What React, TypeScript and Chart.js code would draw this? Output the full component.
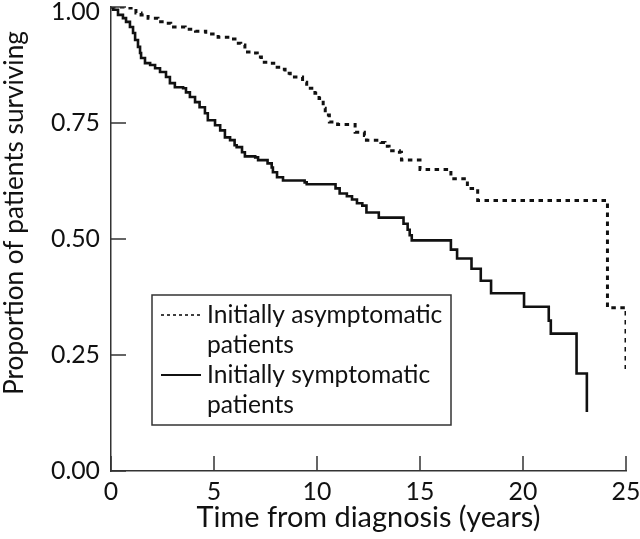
import React, { useEffect, useRef } from 'react';
import { Chart, registerables } from 'chart.js';

Chart.register(...registerables);

// Kaplan-Meier step data: time (years) at which survival drops, and survival after the drop
const asymTimes = [0, 0.92, 1.21, 1.46, 1.8, 2.28, 2.6, 2.9, 3.6, 4.1, 4.6, 5.2, 5.8, 6.1, 6.3, 6.5, 6.8, 7.1, 7.3, 7.6, 7.9, 8.3, 8.45, 8.7, 9.3, 9.5, 9.9, 10.1, 10.3, 10.4, 10.6, 11.0, 11.85, 12.3, 12.4, 13.1, 13.3, 13.5, 14.0, 14.1, 15.0, 16.5, 17.3, 17.8, 24.1, 25.0];
const asymSurv = [1.0, 0.998, 0.987, 0.983, 0.976, 0.968, 0.965, 0.957, 0.952, 0.948, 0.942, 0.935, 0.931, 0.922, 0.918, 0.903, 0.901, 0.892, 0.881, 0.879, 0.870, 0.866, 0.857, 0.849, 0.838, 0.825, 0.814, 0.803, 0.782, 0.767, 0.752, 0.747, 0.730, 0.723, 0.713, 0.708, 0.700, 0.690, 0.687, 0.670, 0.650, 0.630, 0.609, 0.583, 0.352, 0.220];

const symTimes = [0, 0.1, 0.34, 0.58, 0.73, 0.92, 1.07, 1.17, 1.31, 1.41, 1.46, 1.65, 1.9, 2.14, 2.38, 2.67, 2.86, 3.1, 3.5, 3.64, 3.83, 4.08, 4.3, 4.56, 4.7, 5.05, 5.3, 5.53, 5.78, 6.0, 6.1, 6.36, 6.5, 7.0, 7.14, 7.6, 7.8, 7.86, 8.06, 8.35, 9.4, 9.5, 10.9, 11.1, 11.45, 11.7, 11.94, 12.2, 12.4, 13.0, 14.2, 14.4, 14.5, 14.6, 16.5, 16.8, 17.5, 17.95, 18.45, 20.05, 21.25, 21.35, 22.6, 23.1];
const symSurv = [1.0, 0.994, 0.983, 0.976, 0.968, 0.957, 0.944, 0.929, 0.914, 0.901, 0.890, 0.879, 0.875, 0.868, 0.860, 0.849, 0.836, 0.827, 0.825, 0.816, 0.806, 0.795, 0.784, 0.771, 0.756, 0.745, 0.734, 0.719, 0.713, 0.702, 0.698, 0.687, 0.678, 0.676, 0.670, 0.663, 0.654, 0.644, 0.633, 0.626, 0.622, 0.618, 0.609, 0.598, 0.592, 0.585, 0.577, 0.572, 0.557, 0.546, 0.533, 0.520, 0.508, 0.497, 0.477, 0.458, 0.436, 0.410, 0.383, 0.354, 0.324, 0.296, 0.210, 0.127];

const xTicks = [0, 5, 10, 15, 20, 25];
const yTicks = [0, 0.25, 0.5, 0.75, 1];
const legendLines = [
  ['Initially asymptomatic', 'patients'],
  ['Initially symptomatic', 'patients'],
];
const xTitle = 'Time from diagnosis (years)';
const yTitle = 'Proportion of patients surviving';

const FONT = 'Lato, "Noto Sans", sans-serif';
const INK = '#111';

function fitSize(text: string, target: number): number {
  const c = document.createElement('canvas').getContext('2d')!;
  c.font = `100px ${FONT}`;
  return Math.round((100 * target) / c.measureText(text).width * 10) / 10;
}

export default function App() {
  const ref = useRef<HTMLCanvasElement>(null);

  useEffect(() => {
    document.body.style.margin = '0';
    const canvas = ref.current!;
    const tickSize = fitSize('0.75', 49);
    const xTitleSize = fitSize(xTitle, 344);
    const yTitleSize = fitSize(yTitle, 364);
    const legSize = fitSize(legendLines[0][0], 235);

    const decor = {
      id: 'decor',
      afterDraw(chart: any) {
        const ctx = chart.ctx as CanvasRenderingContext2D;
        const xs = chart.scales.x;
        const ys = chart.scales.y;
        const { left, bottom } = chart.chartArea;
        ctx.save();
        // inward tick marks
        ctx.strokeStyle = '#333';
        ctx.lineWidth = 1.5;
        ctx.beginPath();
        xs.ticks.forEach((t: any) => {
          const px = xs.getPixelForValue(t.value);
          ctx.moveTo(px, bottom);
          ctx.lineTo(px, bottom - 15);
        });
        ys.ticks.forEach((t: any) => {
          const py = ys.getPixelForValue(t.value);
          ctx.moveTo(left, py);
          ctx.lineTo(left + 15, py);
        });
        ctx.stroke();

        // y axis title
        ctx.fillStyle = INK;
        ctx.font = `${yTitleSize}px ${FONT}`;
        ctx.textAlign = 'center';
        ctx.textBaseline = 'middle';
        ctx.translate(15, 213);
        ctx.rotate(-Math.PI / 2);
        ctx.fillText(yTitle, 0, 0);
        ctx.setTransform(1, 0, 0, 1, 0, 0);

        // legend
        const bx = 152, by = 295, bw = 299, bh = 130;
        ctx.strokeStyle = '#333';
        ctx.lineWidth = 1.5;
        ctx.strokeRect(bx, by, bw, bh);
        const baselines = [[323, 352.5], [383, 412.5]];
        ctx.font = `${legSize}px ${FONT}`;
        ctx.textAlign = 'left';
        ctx.textBaseline = 'alphabetic';
        legendLines.forEach((lines, i) => {
          ctx.save();
          ctx.strokeStyle = INK;
          ctx.lineWidth = i === 0 ? 1.6 : 2.2;
          ctx.setLineDash(i === 0 ? [3, 3] : []);
          ctx.beginPath();
          ctx.moveTo(161, baselines[i][0] - 8);
          ctx.lineTo(201, baselines[i][0] - 8);
          ctx.stroke();
          ctx.restore();
          lines.forEach((ln, j) => ctx.fillText(ln, 207, baselines[i][j]));
        });
        ctx.restore();
      },
    };

    const chart = new Chart(canvas, {
      type: 'line',
      data: {
        datasets: [
          {
            label: legendLines[0].join(' '),
            data: asymTimes.map((t, i) => ({ x: t, y: asymSurv[i] })),
            stepped: true,
            borderColor: INK,
            borderWidth: 3,
            borderDash: [4.5, 4.5],
            borderCapStyle: 'butt',
            pointRadius: 0,
            fill: false,
          },
          {
            label: legendLines[1].join(' '),
            data: symTimes.map((t, i) => ({ x: t, y: symSurv[i] })),
            stepped: true,
            borderColor: INK,
            borderWidth: 2.6,
            pointRadius: 0,
            fill: false,
          },
        ],
      },
      options: {
        responsive: false,
        animation: false,
        layout: { padding: { top: 7, right: 14, left: 0, bottom: 0 } },
        plugins: { legend: { display: false }, tooltip: { enabled: false } },
        scales: {
          x: {
            type: 'linear',
            min: 0,
            max: 25,
            afterBuildTicks: (s: any) => { s.ticks = xTicks.map((v) => ({ value: v })); },
            afterFit: (s: any) => { s.height = 68; s.paddingLeft = 0; s.paddingRight = 0; },
            grid: { display: false, drawTicks: false },
            border: { display: true, color: '#333', width: 1.5 },
            ticks: { color: INK, font: { family: FONT, size: tickSize }, padding: 6, maxRotation: 0, callback: (v: any) => String(v) },
            title: { display: true, text: xTitle, color: INK, font: { family: FONT, size: xTitleSize }, padding: { top: 0, bottom: 4 } },
          },
          y: {
            type: 'linear',
            min: 0,
            max: 1,
            afterBuildTicks: (s: any) => { s.ticks = yTicks.map((v) => ({ value: v })); },
            afterFit: (s: any) => { s.width = 111; s.paddingTop = 0; s.paddingBottom = 0; },
            grid: { display: false, drawTicks: false },
            border: { display: true, color: '#333', width: 1.5 },
            ticks: {
              color: INK,
              padding: 11,
              // top label sits just below the tick so it stays inside the canvas
              font: (c: any) => ({ family: FONT, size: tickSize, lineHeight: c.tick && c.tick.value === 1 ? '10px' : 1.2 }),
              callback: (v: any) => (Number(v) === 1 ? ['', Number(v).toFixed(2)] : Number(v).toFixed(2)),
            },
          },
        },
      },
      plugins: [decor],
    } as any);
    return () => chart.destroy();
  }, []);

  return (
    <div style={{ width: 640, height: 539 }}>
      <canvas ref={ref} width={640} height={539} />
    </div>
  );
}
